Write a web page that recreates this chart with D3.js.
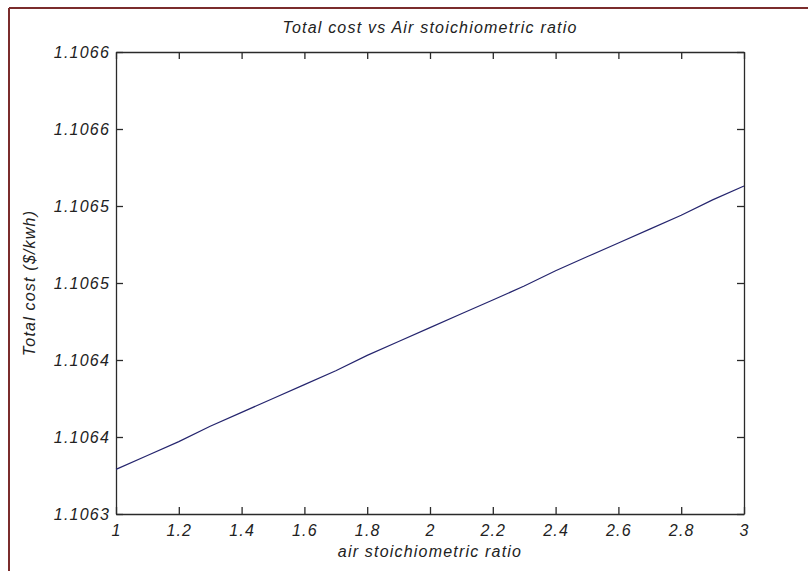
<!DOCTYPE html>
<html>
<head>
<meta charset="utf-8">
<script src="https://cdn.jsdelivr.net/npm/d3@7"></script>
<style>
  body { margin: 0; background: #fff; }
  text { font-family: "Liberation Sans", Arial, sans-serif; font-style: italic; fill: #222; }
</style>
</head>
<body>
<script>
// air stoichiometric ratio vs total cost
var ratio = [1.0, 1.1, 1.2, 1.3, 1.4, 1.5, 1.6, 1.7, 1.8, 1.9, 2.0,
             2.1, 2.2, 2.3, 2.4, 2.5, 2.6, 2.7, 2.8, 2.9, 3.0];
var cost = [1.106329, 1.106338, 1.106347, 1.106357, 1.106366, 1.106375, 1.106384,
            1.106393, 1.106403, 1.106412, 1.106421, 1.106430, 1.106439, 1.106448,
            1.106458, 1.106467, 1.106476, 1.106485, 1.106494, 1.106504, 1.106513];

var xTicks = [1, 1.2, 1.4, 1.6, 1.8, 2, 2.2, 2.4, 2.6, 2.8, 3];
var xTickLabels = ["1", "1.2", "1.4", "1.6", "1.8", "2", "2.2", "2.4", "2.6", "2.8", "3"];
var yTicks = [1.1063, 1.10635, 1.1064, 1.10645, 1.1065, 1.10655, 1.1066];
var yTickLabels = ["1.1063", "1.1064", "1.1064", "1.1065", "1.1065", "1.1066", "1.1066"];

var w = 808, h = 571;
var plotL = 116, plotR = 744, plotT = 52, plotB = 514;

var svg = d3.select("body").append("svg")
  .attr("width", w)
  .attr("height", h);

svg.append("rect").attr("width", w).attr("height", h).attr("fill", "#fff");

// frame around the picture (top and left only)
svg.append("line").attr("x1", 9).attr("y1", 8).attr("x2", w).attr("y2", 8)
  .attr("stroke", "#7b2c2c").attr("stroke-width", 2);
svg.append("line").attr("x1", 9).attr("y1", 8).attr("x2", 9).attr("y2", h)
  .attr("stroke", "#7b2c2c").attr("stroke-width", 2);

var x = d3.scaleLinear().domain([1, 3]).range([plotL, plotR]);
var y = d3.scaleLinear().domain([1.1063, 1.1066]).range([plotB, plotT]);

var tickLen = 7;
var fontSize = 16, spacing = 1.2;

// ticks pointing inward, on all four sides
var xAxisB = d3.axisBottom(x).tickValues(xTicks).tickSizeInner(-tickLen).tickSizeOuter(0)
  .tickFormat(function(d, i){ return xTickLabels[i]; }).tickPadding(11);
var xAxisT = d3.axisTop(x).tickValues(xTicks).tickSizeInner(-tickLen).tickSizeOuter(0)
  .tickFormat("");
var yAxisL = d3.axisLeft(y).tickValues(yTicks).tickSizeInner(-tickLen).tickSizeOuter(0)
  .tickFormat(function(d, i){ return yTickLabels[i]; }).tickPadding(6);
var yAxisR = d3.axisRight(y).tickValues(yTicks).tickSizeInner(-tickLen).tickSizeOuter(0)
  .tickFormat("");

function styleAxis(g){
  g.select(".domain").attr("stroke", "#2a2a2a").attr("stroke-width", 1.3);
  g.selectAll(".tick line").attr("stroke", "#2a2a2a").attr("stroke-width", 1.3);
  g.selectAll(".tick text")
    .attr("font-family", "'Liberation Sans', Arial, sans-serif")
    .attr("font-style", "italic")
    .attr("font-size", fontSize)
    .attr("letter-spacing", spacing + "px")
    .attr("fill", "#222");
}

svg.append("g").attr("transform", "translate(0," + plotB + ")").call(xAxisB).call(styleAxis);
svg.append("g").attr("transform", "translate(0," + plotT + ")").call(xAxisT).call(styleAxis);
svg.append("g").attr("transform", "translate(" + plotL + ",0)").call(yAxisL).call(styleAxis);
svg.append("g").attr("transform", "translate(" + plotR + ",0)").call(yAxisR).call(styleAxis);

// the curve
var line = d3.line()
  .x(function(d){ return x(d[0]); })
  .y(function(d){ return y(d[1]); });

svg.append("path")
  .datum(ratio.map(function(r, i){ return [r, cost[i]]; }))
  .attr("d", line)
  .attr("fill", "none")
  .attr("stroke", "#25256e")
  .attr("stroke-width", 1.2);

// title and axis labels
svg.append("text")
  .attr("x", (plotL + plotR) / 2)
  .attr("y", 33)
  .attr("text-anchor", "middle")
  .attr("font-size", fontSize)
  .attr("letter-spacing", spacing + "px")
  .text("Total cost vs Air stoichiometric ratio");

svg.append("text")
  .attr("x", (plotL + plotR) / 2)
  .attr("y", 557)
  .attr("text-anchor", "middle")
  .attr("font-size", fontSize)
  .attr("letter-spacing", spacing + "px")
  .text("air stoichiometric ratio");

svg.append("text")
  .attr("transform", "translate(35," + ((plotT + plotB) / 2) + ") rotate(-90)")
  .attr("text-anchor", "middle")
  .attr("font-size", fontSize)
  .attr("letter-spacing", spacing + "px")
  .text("Total cost ($/kwh)");
</script>
</body>
</html>
